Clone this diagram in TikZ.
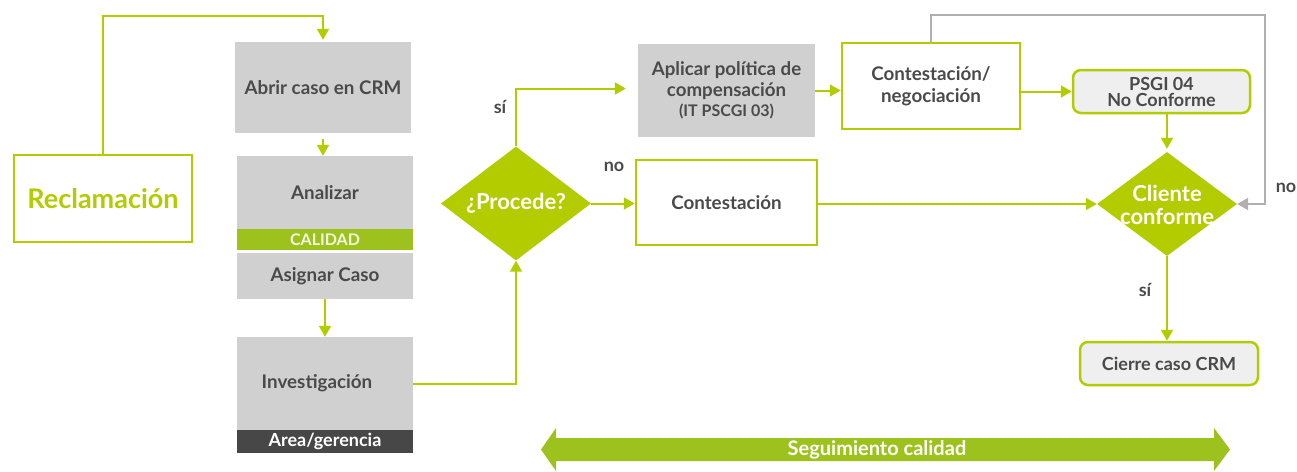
\documentclass[tikz,border=0pt]{standalone}
\usepackage{fontspec}
\setmainfont{Lato}
\usetikzlibrary{shapes.geometric,arrows.meta,calc}
\definecolor{lime}{HTML}{B3CC00}
\definecolor{band}{HTML}{9DC21E}
\definecolor{boxgray}{HTML}{D0D0D0}
\definecolor{darkband}{HTML}{474747}
\definecolor{txt}{HTML}{4A4A4A}
\definecolor{lgray}{HTML}{EFEFEF}
\definecolor{conngray}{HTML}{B0B0B0}
\begin{document}
\begin{tikzpicture}[x=1pt,y=-1pt,
  every node/.style={font=\bfseries, text=txt, inner sep=0pt, align=center},
  graybox/.style={rectangle, fill=boxgray, font=\bfseries\fontsize{18.8}{21}\selectfont},
  greenbox/.style={rectangle, draw=lime, line width=2.5pt, fill=white, font=\bfseries\fontsize{18.8}{22}\selectfont},
  roundbox/.style={rectangle, rounded corners=8pt, draw=lime, line width=2.5pt, fill=lgray, font=\bfseries\fontsize{18}{16}\selectfont},
  decision/.style={diamond, fill=lime},
  dtext/.style={text=white, font=\bfseries\fontsize{22}{23}\selectfont},
  conn/.style={draw=lime, line width=2pt, -{Triangle[length=11pt,width=12pt]}},
  gconn/.style={draw=conngray, line width=2pt, -{Triangle[length=11pt,width=12pt]}},
  lbl/.style={font=\bfseries\fontsize{18}{20}\selectfont}
]
\useasboundingbox (0,0) rectangle (1297,471);

% left column
\node[greenbox, minimum width=178pt, minimum height=87pt, text=lime, font=\bfseries\fontsize{27}{30}\selectfont] (recl) at (103,198.5) {Reclamación};
\node[graybox, minimum width=176pt, minimum height=91pt] (abrir) at (323,87.5) {Abrir caso en CRM};
\node[graybox, minimum width=176pt, minimum height=73pt] (analizar) at (325,192.5) {Analizar};
\node[rectangle, fill=band, minimum width=176pt, minimum height=21pt, text=white!88!band, font=\bfseries\fontsize{16}{17}\selectfont] (calidad) at (325,239.5) {CALIDAD};
\node[graybox, minimum width=176pt, minimum height=46pt] (asignar) at (325,276) {Asignar Caso};
\node[graybox, minimum width=176pt, minimum height=93pt] (invest) at (325,383.5) {Investigación\hspace*{16pt}};
\node[rectangle, fill=darkband, minimum width=176pt, minimum height=23pt, text=white, font=\bfseries\fontsize{18}{19}\selectfont] (area) at (325,441.5) {Area/gerencia};

% middle
\node[decision, minimum width=150pt, minimum height=114pt] (procede) at (516,203.5) {};
\node[dtext] (procedeT) at (procede.center) {¿Procede?};
\node[graybox, minimum width=177pt, minimum height=93pt, font=\bfseries\fontsize{18.7}{20.5}\selectfont] (aplicar) at (726.5,90.5) {Aplicar política de\\compensación\\{\fontsize{16}{22}\selectfont (IT PSCGI 03)}};
\node[greenbox, minimum width=181pt, minimum height=85pt] (contest) at (726.5,202.5) {Contestación};
\node[greenbox, minimum width=178pt, minimum height=86pt] (contneg) at (931,86) {Contestación/\\negociación};
\node[roundbox, minimum width=177pt, minimum height=43pt] (psgi) at (1161.5,91.5) {PSGI 04\\No Conforme};
\node[decision, minimum width=140pt, minimum height=104pt] (cliente) at (1167,204) {};
\node[dtext] (clienteT) at ($(cliente.center)+(0,1)$) {Cliente\\conforme};
\node[roundbox, minimum width=178pt, minimum height=43pt] (cierre) at (1169,363.5) {Cierre caso CRM};

% connectors
\draw[conn] (recl.north) -- ++(0,-138) -| ($(abrir.north)+(0,-2)$);
\draw[conn] ($(abrir.south)+(0,6)$) -- (abrir.south |- analizar.north);
\draw[conn] (asignar.south) -- (invest.north);
\draw[conn] (invest.east) -| (procede.south);
\draw[conn] (procede.north) |- ($(aplicar.west)+(-12,-2)$);
\node[lbl] (si1) at (500,107) {sí};
\draw[conn] (procede.east) -- (procede.east -| contest.west);
\node[lbl] (no1) at (614,167) {no};
\draw[conn] (aplicar.east) -- (aplicar.east -| contneg.west);
\draw[conn] (psgi.west -| contneg.east) -- (psgi.west);
\draw[conn] (cliente.north |- psgi.south) -- ($(cliente.north)+(0,-3)$);
\draw[conn] (contest.east |- cliente.west) -- (cliente.west);
\coordinate (gtop) at (1265,15);
\draw[gconn] (contneg.north) |- (gtop) |- (cliente.east);
\node[lbl] (no2) at (1286,188) {no};
\draw[conn] (cliente.south) -- (cliente.south |- cierre.north);
\node[lbl] (si2) at (1145,290) {sí};

% follow-up arrow
\fill[band] (541,449.5) -- (556,428) -- (556,438) -- (1214,438) -- (1214,428) -- (1230,449.5) -- (1214,471) -- (1214,461) -- (556,461) -- (556,471) -- cycle;
\node[text=white, font=\bfseries\fontsize{20}{22}\selectfont] (seg) at (877,450) {Seguimiento calidad};
\end{tikzpicture}
\end{document}
